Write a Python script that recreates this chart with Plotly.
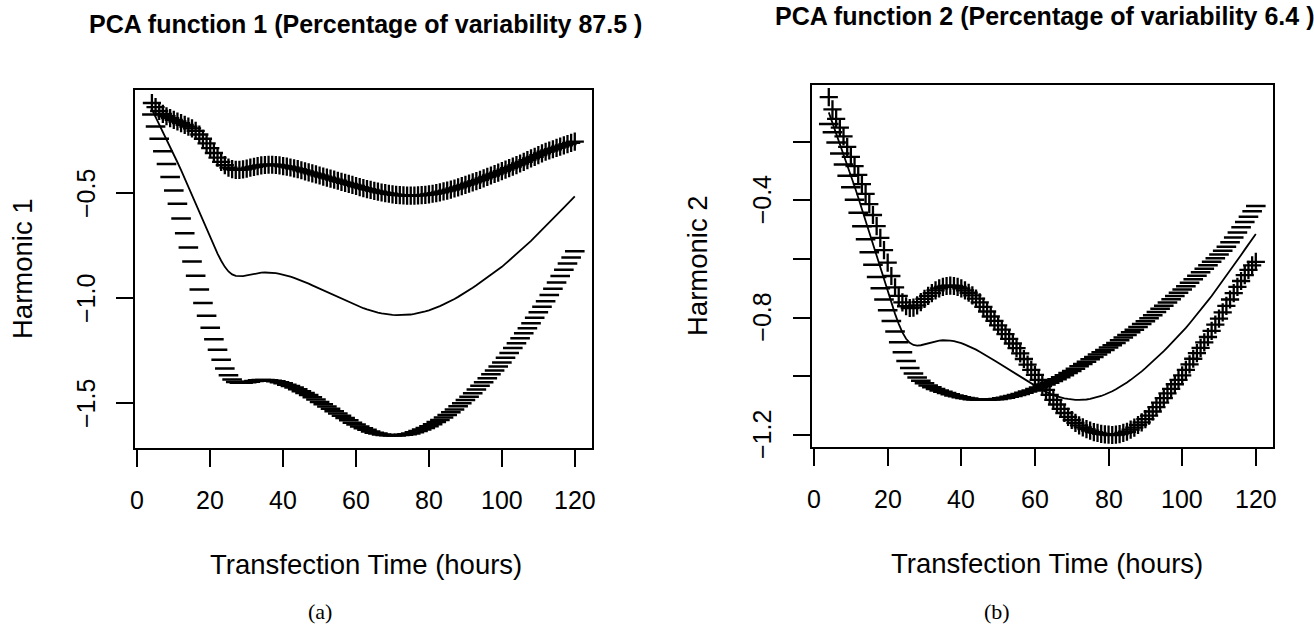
import plotly.graph_objects as go

# ---------------- data ----------------
hours = list(range(4, 121))  # evaluation grid, 4 .. 120 h

mean_curve = [
    -0.100, -0.135, -0.170, -0.205, -0.240, -0.277, -0.314, -0.352, -0.390, -0.430,
    -0.470, -0.510, -0.550, -0.590, -0.630, -0.670, -0.710, -0.750, -0.787, -0.821,
    -0.850, -0.872, -0.886, -0.893, -0.895, -0.894, -0.891, -0.887, -0.883, -0.880,
    -0.878, -0.877, -0.877, -0.878, -0.880, -0.883, -0.887, -0.892, -0.897, -0.903,
    -0.909, -0.916, -0.923, -0.930, -0.938, -0.946, -0.954, -0.962, -0.970, -0.978,
    -0.986, -0.994, -1.002, -1.010, -1.018, -1.026, -1.033, -1.040, -1.047, -1.053,
    -1.059, -1.064, -1.068, -1.072, -1.075, -1.077, -1.079, -1.080, -1.080, -1.080,
    -1.079, -1.077, -1.074, -1.071, -1.067, -1.062, -1.057, -1.051, -1.044, -1.037,
    -1.029, -1.021, -1.012, -1.003, -0.993, -0.983, -0.972, -0.961, -0.950, -0.938,
    -0.926, -0.914, -0.901, -0.888, -0.876, -0.863, -0.850, -0.835, -0.820, -0.805,
    -0.790, -0.774, -0.758, -0.742, -0.726, -0.709, -0.692, -0.675, -0.658, -0.640,
    -0.622, -0.604, -0.586, -0.568, -0.550, -0.533, -0.515,
]

pc1_plus = [
    -0.070, -0.090, -0.108, -0.122, -0.133, -0.142, -0.150, -0.158, -0.166, -0.174,
    -0.182, -0.191, -0.203, -0.220, -0.240, -0.262, -0.285, -0.308, -0.330, -0.350,
    -0.366, -0.378, -0.385, -0.388, -0.388, -0.386, -0.382, -0.378, -0.374, -0.370,
    -0.367, -0.365, -0.364, -0.364, -0.365, -0.367, -0.370, -0.373, -0.377, -0.381,
    -0.385, -0.390, -0.395, -0.400, -0.405, -0.410, -0.415, -0.420, -0.425, -0.430,
    -0.435, -0.440, -0.445, -0.450, -0.455, -0.460, -0.465, -0.470, -0.475, -0.480,
    -0.484, -0.488, -0.492, -0.496, -0.499, -0.502, -0.505, -0.507, -0.509, -0.510,
    -0.511, -0.511, -0.511, -0.510, -0.509, -0.507, -0.505, -0.502, -0.499, -0.495,
    -0.491, -0.487, -0.482, -0.477, -0.472, -0.466, -0.460, -0.454, -0.448, -0.442,
    -0.436, -0.429, -0.422, -0.415, -0.408, -0.401, -0.394, -0.387, -0.380, -0.373,
    -0.366, -0.358, -0.350, -0.342, -0.334, -0.326, -0.318, -0.310, -0.302, -0.296,
    -0.290, -0.284, -0.278, -0.272, -0.266, -0.260, -0.254,
]

pc1_minus = [
    -0.125, -0.182, -0.240, -0.300, -0.360, -0.422, -0.486, -0.550, -0.620, -0.690,
    -0.758, -0.825, -0.893, -0.958, -1.022, -1.083, -1.140, -1.195, -1.245, -1.292,
    -1.334, -1.366, -1.387, -1.398, -1.402, -1.402, -1.400, -1.397, -1.393, -1.390,
    -1.389, -1.389, -1.390, -1.392, -1.395, -1.399, -1.404, -1.411, -1.417, -1.425,
    -1.433, -1.442, -1.451, -1.460, -1.471, -1.482, -1.493, -1.504, -1.515, -1.526,
    -1.537, -1.548, -1.559, -1.570, -1.581, -1.592, -1.601, -1.610, -1.619, -1.626,
    -1.634, -1.640, -1.644, -1.648, -1.651, -1.652, -1.653, -1.653, -1.651, -1.650,
    -1.647, -1.643, -1.637, -1.632, -1.625, -1.617, -1.609, -1.600, -1.589, -1.579,
    -1.567, -1.555, -1.542, -1.529, -1.514, -1.500, -1.484, -1.468, -1.452, -1.434,
    -1.416, -1.399, -1.380, -1.361, -1.344, -1.325, -1.306, -1.283, -1.260, -1.237,
    -1.214, -1.190, -1.166, -1.142, -1.118, -1.092, -1.066, -1.040, -1.014, -0.984,
    -0.954, -0.924, -0.894, -0.864, -0.834, -0.806, -0.776,
]

pc2_plus = [
    -0.048, -0.090, -0.122, -0.152, -0.182, -0.218, -0.252, -0.283, -0.313, -0.345,
    -0.378, -0.413, -0.450, -0.488, -0.528, -0.570, -0.612, -0.658, -0.697, -0.726,
    -0.748, -0.761, -0.767, -0.766, -0.758, -0.747, -0.736, -0.726, -0.716, -0.707,
    -0.700, -0.695, -0.692, -0.691, -0.692, -0.695, -0.700, -0.707, -0.715, -0.724,
    -0.735, -0.748, -0.763, -0.779, -0.796, -0.811, -0.826, -0.841, -0.856, -0.872,
    -0.888, -0.904, -0.922, -0.941, -0.960, -0.978, -0.995, -1.012, -1.029, -1.046,
    -1.063, -1.080, -1.096, -1.111, -1.125, -1.138, -1.149, -1.159, -1.167, -1.174,
    -1.180, -1.185, -1.190, -1.193, -1.196, -1.198, -1.199, -1.200, -1.199, -1.197,
    -1.193, -1.189, -1.182, -1.175, -1.166, -1.157, -1.146, -1.134, -1.120, -1.105,
    -1.090, -1.074, -1.058, -1.043, -1.027, -1.012, -0.997, -0.978, -0.959, -0.940,
    -0.921, -0.903, -0.884, -0.866, -0.845, -0.824, -0.803, -0.782, -0.760, -0.738,
    -0.716, -0.695, -0.675, -0.655, -0.637, -0.622, -0.610,
]

pc2_minus = [
    -0.140, -0.168, -0.203, -0.240, -0.278, -0.316, -0.355, -0.398, -0.442, -0.488,
    -0.533, -0.577, -0.620, -0.661, -0.700, -0.738, -0.775, -0.811, -0.847, -0.884,
    -0.918, -0.948, -0.972, -0.990, -1.004, -1.015, -1.024, -1.031, -1.037, -1.043,
    -1.048, -1.053, -1.057, -1.061, -1.065, -1.068, -1.071, -1.074, -1.076, -1.078,
    -1.079, -1.080, -1.080, -1.080, -1.079, -1.078, -1.077, -1.075, -1.073, -1.070,
    -1.067, -1.064, -1.060, -1.056, -1.052, -1.048, -1.043, -1.038, -1.033, -1.028,
    -1.022, -1.016, -1.010, -1.003, -0.996, -0.989, -0.982, -0.974, -0.966, -0.958,
    -0.950, -0.942, -0.934, -0.926, -0.918, -0.910, -0.902, -0.894, -0.886, -0.877,
    -0.868, -0.859, -0.850, -0.841, -0.832, -0.822, -0.812, -0.802, -0.792, -0.781,
    -0.770, -0.759, -0.748, -0.737, -0.726, -0.715, -0.704, -0.693, -0.681, -0.669,
    -0.657, -0.645, -0.633, -0.621, -0.609, -0.597, -0.585, -0.572, -0.558, -0.543,
    -0.527, -0.510, -0.492, -0.474, -0.456, -0.437, -0.419,
]

x_ticks = [0, 20, 40, 60, 80, 100, 120]
x_labels = ["0", "20", "40", "60", "80", "100", "120"]
y1_ticks = [-1.5, -1.0, -0.5]
y1_labels = ["\u22121.5", "\u22121.0", "\u22120.5"]
y2_ticks = [-1.2, -1.0, -0.8, -0.6, -0.4, -0.2]
y2_labels = ["\u22121.2", "", "\u22120.8", "", "\u22120.4", ""]

titles = ["PCA function 1 (Percentage of variability 87.5 )",
          "PCA function 2 (Percentage of variability 6.4 )"]
y_titles = ["Harmonic 1", "Harmonic 2"]
x_title = "Transfection Time (hours)"
captions = ["(a)", "(b)"]

# ---------------- figure ----------------
W, H = 1314, 625
FONT = "Liberation Sans, Arial, Helvetica, sans-serif"
SERIF = "Liberation Serif, DejaVu Serif, serif"

fig = go.Figure()

panels = [
    dict(xa="x", ya="y", plus=pc1_plus, minus=pc1_minus),
    dict(xa="x2", ya="y2", plus=pc2_plus, minus=pc2_minus),
]
for p in panels:
    fig.add_trace(go.Scatter(x=hours, y=mean_curve, mode="lines",
                             line=dict(color="black", width=1.8),
                             xaxis=p["xa"], yaxis=p["ya"], showlegend=False,
                             hoverinfo="skip"))
    fig.add_trace(go.Scatter(x=hours, y=p["plus"], mode="markers",
                             marker=dict(symbol="cross-thin", size=13,
                                         line=dict(color="black", width=2.3)),
                             xaxis=p["xa"], yaxis=p["ya"], showlegend=False,
                             hoverinfo="skip"))
    fig.add_trace(go.Scatter(x=hours, y=p["minus"], mode="markers",
                             marker=dict(symbol="line-ew", size=14,
                                         line=dict(color="black", width=2.5)),
                             xaxis=p["xa"], yaxis=p["ya"], showlegend=False,
                             hoverinfo="skip"))

def px_x(v):
    return v / W

def px_y(v):
    return 1 - v / H

axis_common = dict(showline=True, linecolor="black", linewidth=2, mirror=True,
                   ticks="outside", ticklen=17, tickwidth=2, tickcolor="black",
                   showgrid=False, zeroline=False, showticklabels=False)

# panel boxes (pixel positions in the 1314x625 page)
box1 = (135, 591.7, 90, 448.3)
box2 = (811.7, 1272.9, 85, 447.3)

fig.update_layout(
    width=W, height=H,
    margin=dict(l=0, r=0, t=0, b=0),
    paper_bgcolor="white", plot_bgcolor="white",
    font=dict(family=FONT, color="black"),
    xaxis=dict(domain=[px_x(box1[0]), px_x(box1[1])], range=[-0.64, 124.64],
               tickvals=x_ticks, anchor="y", **axis_common),
    yaxis=dict(domain=[px_y(box1[3]), px_y(box1[2])], range=[-1.714, -0.008],
               tickvals=y1_ticks, anchor="x", **axis_common),
    xaxis2=dict(domain=[px_x(box2[0]), px_x(box2[1])], range=[-0.64, 124.64],
                tickvals=x_ticks, anchor="y2", **axis_common),
    yaxis2=dict(domain=[px_y(box2[3]), px_y(box2[2])], range=[-1.242, -0.0067],
                tickvals=y2_ticks, anchor="x2", **axis_common),
)

ann = []
TICKFONT = dict(family=FONT, size=25)
# x tick labels, placed on the data scale of each x axis
for xref, ylab in (("x", 500), ("x2", 499)):
    for v, t in zip(x_ticks, x_labels):
        ann.append(dict(text=t, xref=xref, x=v, yref="paper", y=px_y(ylab),
                        font=dict(TICKFONT)))
# y tick labels (rotated, R style), placed on the data scale of each y axis
for yref, xlab, vals, labs in (("y", 86.7, y1_ticks, y1_labels),
                               ("y2", 762, y2_ticks, y2_labels)):
    for v, t in zip(vals, labs):
        if t:
            ann.append(dict(text=t, xref="paper", x=px_x(xlab), yref=yref, y=v,
                            textangle=-90, font=dict(TICKFONT)))
# main titles
ann.append(dict(text="<b>%s</b>" % titles[0], x=px_x(365.5), y=px_y(24),
                font=dict(family=FONT, size=25)))
ann.append(dict(text="<b>%s</b>" % titles[1], x=px_x(1044), y=px_y(16),
                font=dict(family=FONT, size=25)))
# x axis titles
ann.append(dict(text=x_title, x=px_x(365.5), y=px_y(564), font=dict(family=FONT, size=27.5)))
ann.append(dict(text=x_title, x=px_x(1047), y=px_y(563), font=dict(family=FONT, size=27.5)))
# y axis titles
ann.append(dict(text=y_titles[0], x=px_x(22), y=px_y(269), textangle=-90,
                font=dict(family=FONT, size=27.5)))
ann.append(dict(text=y_titles[1], x=px_x(697), y=px_y(266), textangle=-90,
                font=dict(family=FONT, size=27.5)))
# captions
ann.append(dict(text=captions[0], x=px_x(320), y=px_y(611), font=dict(family=SERIF, size=22)))
ann.append(dict(text=captions[1], x=px_x(997), y=px_y(611), font=dict(family=SERIF, size=22)))

for a in ann:
    a.setdefault("xref", "paper")
    a.setdefault("yref", "paper")
    a.update(showarrow=False, xanchor="center", yanchor="middle")
    a["font"]["color"] = "black"
fig.update_layout(annotations=ann)

fig.write_html("out.html")
